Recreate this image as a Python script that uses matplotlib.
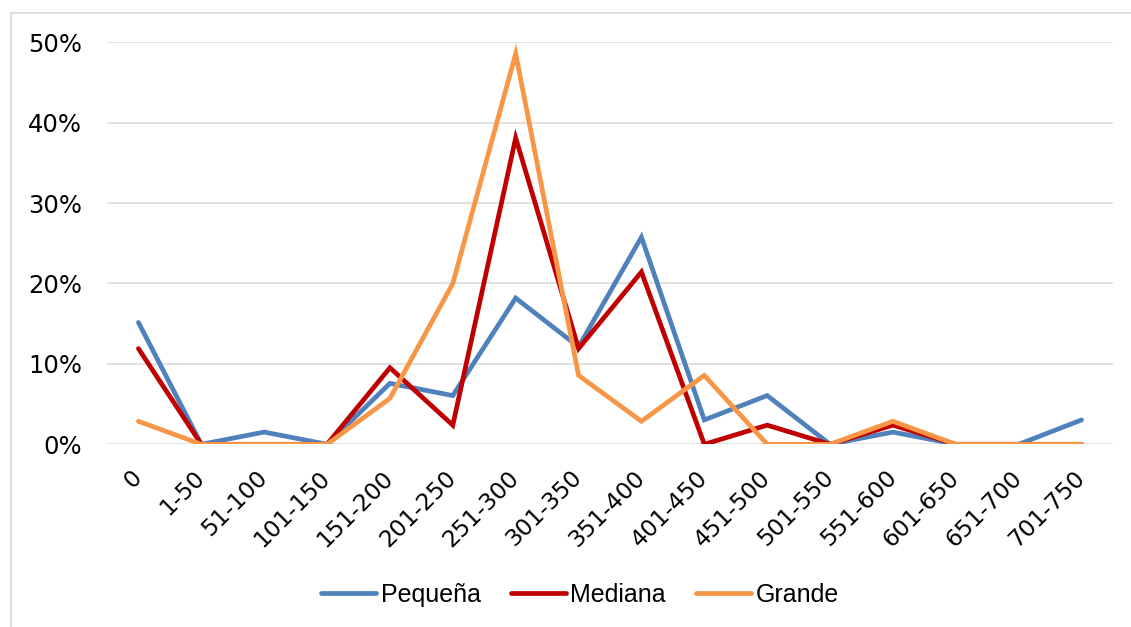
import matplotlib
matplotlib.use("Agg")
import matplotlib.pyplot as plt
from matplotlib.ticker import FuncFormatter, MultipleLocator
from matplotlib.patches import Rectangle

categories = ["0", "1-50", "51-100", "101-150", "151-200", "201-250", "251-300",
              "301-350", "351-400", "401-450", "451-500", "501-550", "551-600",
              "601-650", "651-700", "701-750"]
pequena = [0.1515, 0.0, 0.0152, 0.0, 0.0758, 0.0606, 0.1818, 0.1212, 0.2576,
           0.0303, 0.0606, 0.0, 0.0152, 0.0, 0.0, 0.0303]
mediana = [0.1190, 0.0, 0.0, 0.0, 0.0952, 0.0238, 0.3810, 0.1190, 0.2143,
           0.0, 0.0238, 0.0, 0.0238, 0.0, 0.0, 0.0]
grande = [0.0286, 0.0, 0.0, 0.0, 0.0571, 0.2000, 0.4857, 0.0857, 0.0286,
          0.0857, 0.0, 0.0, 0.0286, 0.0, 0.0, 0.0]
series_names = ["Pequeña", "Mediana", "Grande"]
colors = ["#4F81BD", "#C00000", "#F79646"]

W, H = 1131, 627
fig = plt.figure(figsize=(W / 100, H / 100), dpi=100)
fig.patch.set_facecolor("white")

# outer chart border (clipped at right/bottom like the reference)
fig.patches.append(Rectangle((10.5 / W, -0.1), 1.2, (H - 13) / H + 0.1,
                             transform=fig.transFigure, fill=False,
                             edgecolor="#D9D9D9", linewidth=1.2))

ax = fig.add_axes([107 / W, (H - 444.3) / H, (1113 - 107) / W, (444.3 - 42.2) / H])
x = list(range(len(categories)))
for vals, name, c in zip([pequena, mediana, grande], series_names, colors):
    ax.plot(x, vals, color=c, linewidth=3.4, label=name, solid_capstyle="round",
            solid_joinstyle="miter")

ax.set_xlim(-0.5, len(categories) - 0.5)
ax.set_ylim(0, 0.5)
ax.yaxis.set_major_locator(MultipleLocator(0.1))
ax.yaxis.set_major_formatter(FuncFormatter(lambda v, p: f"{v*100:.0f}%"))
ax.grid(axis="y", color="#D9D9D9", linewidth=1.1)
ax.set_axisbelow(True)
for s in ax.spines.values():
    s.set_visible(False)
ax.tick_params(axis="both", length=0)
ax.tick_params(axis="y", pad=18, labelsize=17.5, labelcolor="black")
ax.set_xticks(x)
ax.set_xticklabels(categories, rotation=45, ha="right", va="center",
                   rotation_mode="anchor", fontsize=16.8)
ax.tick_params(axis="x", pad=21.5)

leg = fig.legend(loc="center", bbox_to_anchor=(580 / W, 1 - 595 / H), ncol=3,
                 frameon=False, handlelength=2.2, handletextpad=0.18,
                 columnspacing=1.2,
                 prop={"family": ["Liberation Sans", "DejaVu Sans"], "size": 18})
for line in leg.get_lines():
    line.set_linewidth(3.4)
    line.set_solid_capstyle("round")

fig.savefig("out.png", dpi=100, facecolor="white")
